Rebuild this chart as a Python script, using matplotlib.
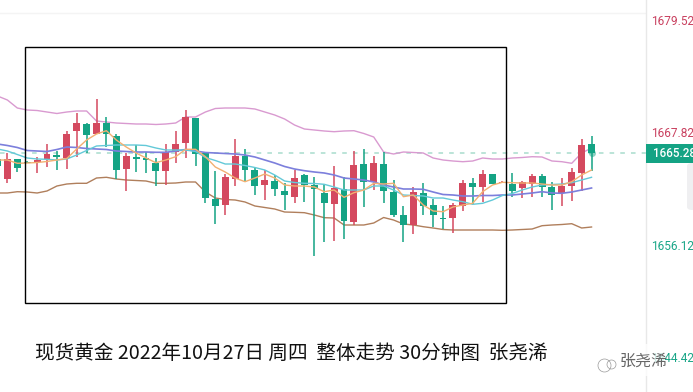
import matplotlib
matplotlib.use("Agg")
from matplotlib import pyplot as plt
from matplotlib.patches import Rectangle, FancyBboxPatch

plt.rcParams['font.family'] = ['Noto Sans CJK SC', 'DejaVu Sans']

W, H = 693, 392

# candles, price values
opens = [1664.68,1662.68,1664.68,1664.43,1664.38,1664.68,1665.08,1664.78,1667.51,1668.18,1667.18,1668.31,1666.98,1663.71,1664.85,1664.78,1664.31,1663.51,1665.41,1666.31,1668.78,1665.28,1660.68,1660.08,1662.68,1665.01,1663.58,1662.08,1662.48,1661.48,1660.91,1663.08,1662.08,1661.31,1660.18,1661.68,1658.38,1664.18,1662.41,1664.18,1661.41,1659.08,1658.11,1661.28,1660.08,1658.78,1658.81,1659.98,1662.28,1661.91,1663.18,1662.31,1662.18,1661.78,1662.18,1662.98,1661.91,1661.25,1661.98,1663.25,1666.18]
closes = [1663.98,1664.68,1663.78,1664.33,1664.63,1665.18,1664.91,1667.18,1668.31,1667.08,1668.31,1667.18,1663.58,1664.98,1664.68,1664.61,1663.51,1665.38,1666.15,1668.88,1665.15,1660.81,1660.01,1662.88,1664.98,1663.58,1661.98,1662.58,1661.68,1661.08,1662.78,1662.08,1661.71,1660.28,1661.78,1658.48,1664.08,1662.41,1664.28,1661.48,1659.08,1658.11,1661.38,1659.98,1659.08,1658.71,1660.08,1662.28,1661.91,1663.18,1662.18,1662.38,1661.48,1662.35,1662.98,1661.91,1661.11,1661.98,1663.38,1666.08,1665.28]
highs = [1664.88,1665.28,1664.68,1664.48,1664.88,1666.18,1665.48,1667.48,1669.31,1668.28,1670.68,1668.88,1667.18,1665.28,1666.08,1665.41,1664.78,1666.18,1667.48,1669.58,1668.78,1665.28,1663.48,1663.18,1666.68,1665.68,1663.91,1663.58,1663.08,1662.28,1663.58,1663.18,1662.91,1662.18,1663.98,1662.88,1665.48,1665.68,1664.98,1665.41,1662.58,1659.98,1661.88,1662.28,1660.68,1659.98,1660.28,1662.58,1662.78,1663.58,1663.18,1662.51,1663.31,1662.51,1663.18,1663.18,1662.41,1662.78,1663.78,1666.68,1666.98]
lows = [1663.78,1662.28,1663.38,1664.28,1663.28,1663.88,1663.58,1663.68,1664.91,1665.28,1667.18,1665.91,1662.68,1661.51,1663.38,1663.28,1662.01,1662.11,1664.28,1664.81,1663.98,1660.28,1658.18,1659.08,1661.98,1662.41,1661.08,1660.58,1660.98,1659.58,1660.31,1660.41,1655.01,1656.41,1656.51,1656.71,1658.08,1659.91,1661.58,1660.31,1658.91,1656.41,1657.18,1659.08,1657.91,1657.68,1657.28,1659.51,1660.18,1660.41,1662.18,1662.28,1660.91,1660.81,1660.91,1660.91,1659.58,1659.98,1660.51,1661.48,1663.51]

# indicator lines
upper_band = [1670.98,1670.58,1669.78,1669.58,1669.53,1669.38,1669.23,1669.38,1669.48,1669.48,1668.48,1668.38,1668.28,1668.23,1668.18,1668.18,1668.13,1668.18,1668.28,1668.88,1668.88,1669.38,1669.73,1669.78,1669.78,1669.78,1669.68,1669.38,1669.08,1668.68,1668.08,1667.68,1667.58,1667.48,1667.41,1667.48,1667.51,1667.23,1666.88,1665.38,1665.18,1665.38,1665.33,1665.28,1664.78,1664.58,1664.48,1664.41,1664.48,1664.78,1664.68,1664.68,1664.78,1664.83,1664.91,1664.88,1664.48,1664.41,1664.25,1665.28,1665.78]
lower_band = [1661.28,1661.28,1661.41,1661.38,1661.28,1661.48,1661.98,1662.18,1662.25,1662.25,1662.78,1662.85,1662.68,1662.58,1662.53,1662.48,1662.25,1662.25,1662.28,1662.38,1662.38,1661.38,1660.78,1660.63,1660.58,1660.38,1659.98,1659.83,1659.68,1659.38,1659.35,1659.31,1659.08,1658.81,1658.78,1658.08,1658.08,1658.08,1658.28,1658.83,1658.58,1658.18,1658.08,1657.91,1657.78,1657.63,1657.58,1657.58,1657.58,1657.58,1657.58,1657.55,1657.58,1657.63,1657.68,1658.01,1658.08,1658.13,1658.21,1657.78,1657.88]
mid_band = [1666.18,1666.03,1665.83,1665.53,1665.48,1665.43,1665.63,1665.88,1665.83,1665.73,1665.68,1665.63,1665.48,1665.43,1665.38,1665.38,1665.35,1665.35,1665.48,1665.63,1665.48,1665.33,1665.28,1665.23,1665.18,1665.08,1664.88,1664.58,1664.28,1663.93,1663.68,1663.51,1663.38,1663.28,1663.08,1662.78,1662.68,1662.58,1662.38,1662.08,1661.88,1661.68,1661.68,1661.65,1661.38,1661.13,1661.08,1660.98,1660.98,1661.03,1661.03,1661.08,1661.08,1661.18,1661.28,1661.41,1661.28,1661.25,1661.38,1661.58,1661.78]
ma_slow = [1665.68,1665.48,1665.13,1664.78,1664.68,1664.65,1664.58,1664.68,1665.08,1665.53,1665.98,1666.03,1666.08,1666.08,1666.08,1666.03,1665.78,1665.58,1665.58,1665.58,1665.43,1664.83,1664.53,1664.18,1664.18,1664.03,1663.83,1663.58,1663.08,1662.48,1662.33,1662.25,1662.23,1662.15,1661.88,1661.58,1661.58,1661.58,1661.98,1661.98,1661.58,1661.08,1661.03,1660.98,1660.78,1660.78,1660.58,1660.41,1660.15,1660.25,1660.58,1661.03,1661.23,1661.58,1661.88,1662.08,1662.13,1662.18,1662.31,1662.58,1662.85]
ma_fast = [1664.58,1664.58,1664.25,1664.28,1664.33,1664.43,1664.58,1664.73,1665.68,1666.58,1667.18,1667.51,1666.58,1665.88,1665.28,1664.78,1664.31,1664.58,1664.91,1665.65,1665.65,1664.91,1663.88,1663.38,1662.78,1662.41,1662.78,1663.18,1662.78,1662.08,1661.98,1661.98,1661.88,1661.41,1661.58,1660.85,1661.31,1661.58,1662.25,1662.18,1662.25,1660.91,1661.08,1660.08,1659.48,1659.41,1659.88,1660.08,1660.25,1661.41,1662.08,1662.35,1662.31,1662.28,1662.28,1662.18,1662.08,1662.08,1662.41,1663.08,1663.58]

last_price = 1665.28
tick_values = [1679.52, 1667.82, 1656.12, 1644.42]
tick_labels = ["1679.52", "1667.82", "1656.12", "1644.42"]
title_text = "现货黄金 2022年10月27日 周四  整体走势 30分钟图  张尧浠"

RED = "#d4495f"
GREEN = "#14a384"

fig = plt.figure(figsize=(W / 100, H / 100), dpi=100)
ax = fig.add_axes([0, 0, 646 / W, 1])
ax.set_xlim(0.2525, 65.5)
ax.set_ylim(1680.58 - H / 10, 1680.58)
ax.set_xticks([])
ax.set_yticks([])
for s in ["top", "left", "bottom"]:
    ax.spines[s].set_visible(False)
ax.spines["right"].set_color("#e8e8e8")
ax.spines["right"].set_linewidth(1)

# faint top border of the price pane
ax.axhline(1680.58 - 1.25, color="#f4f4f4", lw=1, zorder=0)

# last price dashed line
ax.axhline(last_price, color="#a8dccd", lw=1.1, ls=(0, (3, 4)), zorder=1)

xs = list(range(len(opens)))
ax.plot(xs, upper_band, color="#d99ad0", lw=1.0, zorder=2)
ax.plot(xs, lower_band, color="#b07f5c", lw=1.0, zorder=2)

# candles
for i in xs:
    col = RED if closes[i] >= opens[i] else GREEN
    ax.vlines(i, lows[i], highs[i], color=col, lw=1.1, zorder=3)
    bottom = min(opens[i], closes[i])
    height = max(abs(closes[i] - opens[i]), 0.08)
    ax.bar(i, height, bottom=bottom, width=0.7, color=col, lw=0, zorder=3)

ax.plot(xs, mid_band, color="#7c7fdc", lw=1.2, zorder=4)
ax.plot(xs, ma_slow, color="#63c9d8", lw=1.0, zorder=4)
ax.plot(xs, ma_fast, color="#f2b072", lw=1.0, zorder=4)
ax.plot([xs[-1]], [last_price], "o", color=GREEN, ms=5, alpha=0.5, mew=0, zorder=5)

# price scale, its labels sit a bit apart from the candle scale
ax2 = ax.twinx()
ax2.set_ylim(1640.81, 1681.58)
ax2.set_yticks(tick_values)
ax2.set_yticklabels(tick_labels, fontsize=8.6, family=["Roboto", "DejaVu Sans"])
ax2.tick_params(axis="y", length=0, pad=3.5)
for lab, val in zip(ax2.get_yticklabels(), tick_values):
    lab.set_color("#c9405f" if val > last_price else "#1aa688")
    lab.set_clip_on(False)
for s in ax2.spines.values():
    s.set_visible(False)

# last price tag
fig.add_artist(Rectangle((646 / W, 1 - 163 / H), 47 / W, 19 / H, transform=fig.transFigure,
                         fc=GREEN, ec="none"))
fig.text(653 / W, 1 - 153.5 / H, "%.2f" % last_price, color="white", fontsize=8.4, weight="medium",
         va="center", ha="left", family=["Roboto", "DejaVu Sans"])

# grey scroll handle at the right edge
fig.add_artist(FancyBboxPatch((687 / W, 1 - 210 / H), 12 / W, 47 / H, transform=fig.transFigure,
                              boxstyle="round,pad=0,rounding_size=0.008", fc="#efeff1", ec="none"))

# black box drawn over the chart
fig.add_artist(Rectangle((24.5 / W, 1 - 302.5 / H), 481 / W, 256 / H, transform=fig.transFigure,
                         fill=False, ec="black", lw=1))

fig.text(35 / W, 1 - 353 / H, title_text, fontsize=14.1, color="#111111", va="center", ha="left")

# watermark
fig.add_artist(Rectangle((585 / W, 1 - 376 / H), 80 / W, 32 / H, transform=fig.transFigure,
                         fc="white", ec="none", alpha=0.75))
for cx, cy, r in [(604, 365, 6.5), (611, 364, 4.5)]:
    wm = plt.Line2D([cx / W], [1 - cy / H], marker="o", ms=r * 1.44, mfc="none", mec="#999999",
                    mew=0.5, ls="none", transform=fig.transFigure)
    fig.add_artist(wm)
fig.text(620 / W, 1 - 361 / H, "张尧浠", fontsize=11.5, color="#666666", va="center", ha="left")

plt.savefig("out.png", dpi=100)
